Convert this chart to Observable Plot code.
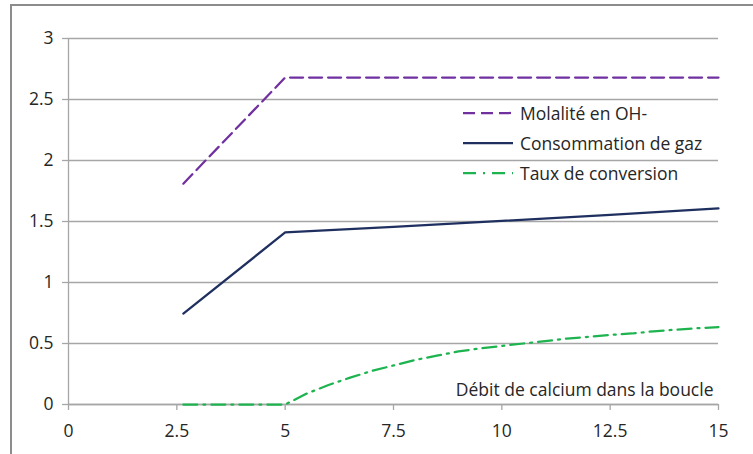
<!DOCTYPE html>
<html><head><meta charset="utf-8">
<script src="https://cdn.jsdelivr.net/npm/d3@7"></script>
<script src="https://cdn.jsdelivr.net/npm/@observablehq/plot@0.6"></script>
<style>
html,body{margin:0;padding:0;background:#fff;}
#wrap{position:relative;width:753px;height:454px;overflow:hidden;font-family:"Open Sans",Lato,sans-serif;}
#frame{position:absolute;left:10px;top:4px;width:760px;height:470px;border-top:2px solid #8c8c8c;border-left:2px solid #8c8c8c;}
#legend{position:absolute;left:462px;top:98px;font-size:17.5px;color:#262626;line-height:30px;}
#legend div{display:flex;align-items:center;}
#legend svg{margin-right:6px;}
</style></head>
<body><div id="wrap"><div id="frame"></div><div id="chart"></div><div id="legend"></div></div>
<script>
const seriesNames = ["Molalité en OH-", "Consommation de gaz", "Taux de conversion"];
const xMolalite = [2.65, 5, 15];
const yMolalite = [1.81, 2.68, 2.68];
const xConso = [2.65, 5, 7.5, 10, 12.5, 15];
const yConso = [0.745, 1.41, 1.455, 1.505, 1.555, 1.607];
const xTaux = [2.65, 5, 5.5, 6, 6.5, 7, 7.5, 8, 8.5, 9, 9.5, 10, 10.5, 11, 11.5, 12, 12.5, 13, 13.5, 14, 14.5, 15];
const yTaux = [0, 0, 0.09, 0.16, 0.22, 0.275, 0.32, 0.365, 0.40, 0.435, 0.46, 0.48, 0.50, 0.52, 0.54, 0.555, 0.57, 0.582, 0.60, 0.613, 0.625, 0.635];
const xTicks = [0, 2.5, 5, 7.5, 10, 12.5, 15];
const yTicks = [0, 0.5, 1, 1.5, 2, 2.5, 3];
const xLabel = "Débit de calcium dans la boucle";

const colors = ["#7030a0", "#1f3060", "#1db34f"];
const dashes = ["13 6", null, "14 6 2 6"];

const toRows = (xs, ys, s) => xs.map((x, i) => ({x, y: ys[i], s}));
const rows = [
  ...toRows(xMolalite, yMolalite, seriesNames[0]),
  ...toRows(xConso, yConso, seriesNames[1]),
  ...toRows(xTaux, yTaux, seriesNames[2])
];

const lineMark = (k) => Plot.line(rows.filter(d => d.s === seriesNames[k]), {
  x: "x", y: "y", stroke: colors[k], strokeWidth: 2.25,
  strokeDasharray: dashes[k] || undefined, strokeLinejoin: "round"
});

const FS = 17.5;
const chart = Plot.plot({
  width: 753, height: 454,
  marginLeft: 68, marginRight: 35, marginTop: 38, marginBottom: 50,
  style: {fontFamily: '"Open Sans", Lato, sans-serif', fontSize: FS + "px", color: "#262626", background: "transparent"},
  x: {domain: [0, 15], ticks: xTicks, tickFormat: d => String(d), label: null},
  y: {domain: [0, 3], ticks: yTicks, tickFormat: d => String(d), label: null},
  marks: [
    Plot.gridY(yTicks, {stroke: "#a6a6a6", strokeOpacity: 1, strokeWidth: 1.3}),
    Plot.axisY(yTicks, {tickSize: 6, tickPadding: 9, stroke: "#a6a6a6", strokeWidth: 1.3, tickFormat: d => String(d), fontSize: FS}),
    Plot.axisX(xTicks, {tickSize: 6, tickPadding: 14, stroke: "#a6a6a6", strokeWidth: 1.3, tickFormat: d => String(d), fontSize: FS}),
    Plot.ruleX([0], {stroke: "#a6a6a6", strokeWidth: 1.3}),
    Plot.ruleY([0], {stroke: "#a6a6a6", strokeWidth: 1.3}),
    lineMark(2), lineMark(1), lineMark(0),
    Plot.text([xLabel], {frameAnchor: "bottom-right", dx: -5, dy: -9, fontSize: FS, fill: "#262626"})
  ]
});
document.getElementById("chart").appendChild(chart);

const leg = document.getElementById("legend");
seriesNames.forEach((name, k) => {
  const row = document.createElement("div");
  row.innerHTML = `<svg width="52" height="6"><line x1="1" y1="3" x2="51" y2="3" stroke="${colors[k]}" stroke-width="2.25" ${dashes[k] ? `stroke-dasharray="${k===0 ? '12 6' : '13 7 2 7'}"` : ""}/></svg><span>${name}</span>`;
  leg.appendChild(row);
});
</script></body></html>
